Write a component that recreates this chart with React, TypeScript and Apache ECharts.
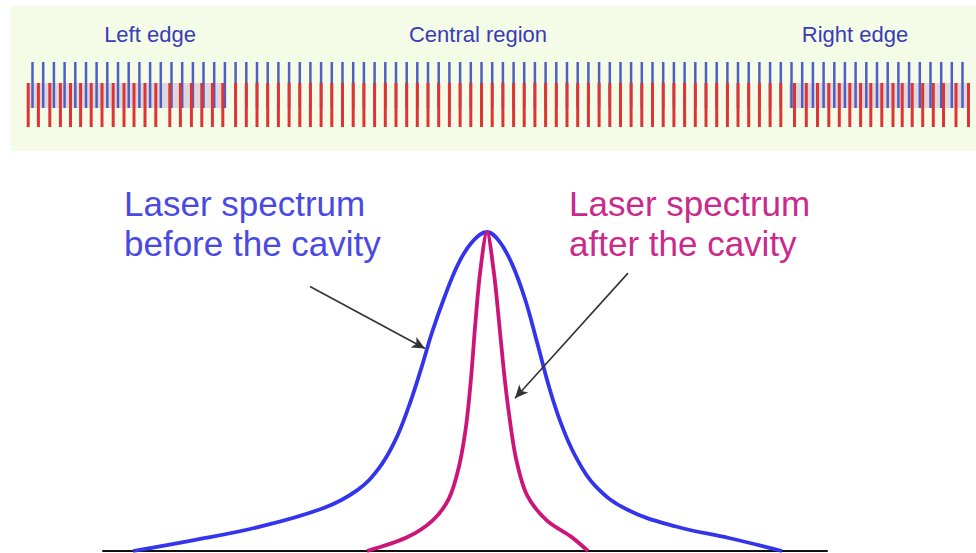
import React, { useEffect, useRef } from "react";
import * as echarts from "echarts";

// ---- Frequency comb (top panel), positions ----
const combModes = [
  32.5, 43.2, 53.9, 64.6, 75.3, 86.0, 96.6, 107.3, 118.0, 128.7,
  139.4, 150.1, 160.8, 171.5, 182.2, 192.9, 203.5, 214.2, 224.9, 235.6,
  246.3, 257.0, 267.7, 278.4, 289.1, 299.8, 310.4, 321.1, 331.8, 342.5,
  353.2, 363.9, 374.6, 385.3, 396.0, 406.7, 417.3, 428.0, 438.7, 449.4,
  460.1, 470.8, 481.5, 492.2, 502.9, 513.6, 524.2, 534.9, 545.6, 556.3,
  567.0, 577.7, 588.4, 599.1, 609.8, 620.5, 631.1, 641.8, 652.5, 663.2,
  673.9, 684.6, 695.3, 706.0, 716.7, 727.4, 738.0, 748.7, 759.4, 770.1,
  780.8, 791.5, 802.2, 812.9, 823.6, 834.3, 844.9, 855.6, 866.3, 877.0,
  887.7, 898.4, 909.1, 919.8, 930.5, 941.2, 951.8, 962.5,
];
const cavityModes = [
  28.2, 38.4, 49.8, 60.4, 70.5, 80.6, 91.2, 102.0, 113.2, 124.0,
  134.0, 145.0, 155.8, 169.8, 180.4, 191.4, 201.8, 212.4, 222.8, 235.6,
  246.3, 257.0, 267.7, 278.4, 289.1, 299.8, 310.4, 321.1, 331.8, 342.5,
  353.2, 363.9, 374.6, 385.3, 396.0, 406.7, 417.3, 428.0, 438.7, 449.4,
  460.1, 470.8, 481.5, 492.2, 502.9, 513.6, 524.2, 534.9, 545.6, 556.3,
  567.0, 577.7, 588.4, 599.1, 609.8, 620.5, 631.1, 641.8, 652.5, 663.2,
  673.9, 684.6, 695.3, 706.0, 716.7, 727.4, 738.0, 748.7, 759.4, 770.1,
  780.8, 794.5, 806.3, 817.5, 828.8, 839.3, 849.8, 860.6, 870.8, 881.8,
  893.0, 902.2, 912.2, 922.7, 933.3, 943.5, 956.0, 968.5,
];
const combRange = [43, 89];
const cavityRange = [24, 68];
const mismatchBands = [
  [27, 224],
  [789, 968],
];
const mismatchRange = [43, 68];
const regionLabels = ["Left edge", "Central region", "Right edge"];

// ---- Spectra (bottom panel): detuning vs normalised intensity ----
const spectrumBefore: [number, number][] = [
  [-354, 0.0], [-297, 0.032], [-230, 0.074], [-164, 0.134], [-130, 0.19],
  [-108, 0.26], [-92, 0.345], [-78, 0.455], [-66, 0.57], [-55, 0.685],
  [-42, 0.8], [-28, 0.905], [-14, 0.972], [0, 1.0], [12, 0.972], [25, 0.9],
  [38, 0.79], [50, 0.655], [62, 0.515], [74, 0.4], [88, 0.3], [108, 0.205],
  [140, 0.13], [190, 0.076], [243, 0.04], [295, 0.0],
];
const spectrumAfter: [number, number][] = [
  [-120, 0.0], [-80, 0.043], [-54, 0.097], [-38, 0.165], [-28, 0.265],
  [-21, 0.39], [-16, 0.54], [-12, 0.7], [-7, 0.87], [0, 1.0],
  [7, 0.87], [12, 0.72], [17, 0.56], [22, 0.43], [29, 0.29], [40, 0.175],
  [60, 0.095], [84, 0.045], [101, 0.0],
];
const beforeLabel = ["Laser spectrum", "before the cavity"];
const afterLabel = ["Laser spectrum", "after the cavity"];
const beforeArrow = [[-177, 0.829], [-62, 0.635]];
const afterArrow = [[141, 0.871], [28, 0.479]];

const FONT = '"Liberation Sans", Arial, sans-serif';

function combRenderer(color: string, width: number) {
  return (params: any, api: any) => {
    const x = api.value(0);
    const p1 = api.coord([x, api.value(1)]);
    const p2 = api.coord([x, api.value(2)]);
    return {
      type: "line",
      shape: { x1: p1[0], y1: p1[1], x2: p2[0], y2: p2[1] },
      style: { stroke: color, lineWidth: width },
    };
  };
}

export default function App() {
  const ref = useRef<HTMLDivElement>(null);
  useEffect(() => {
    if (!ref.current) return;
    const chart = echarts.init(ref.current, undefined, { renderer: "svg" });
    const labelX = [150, 478, 855];
    chart.setOption({
      animation: false,
      backgroundColor: "#ffffff",
      grid: [
        {
          left: 10, right: 0, top: 6, height: 145,
          show: true, backgroundColor: "#f4fbe6", borderWidth: 0,
        },
        { left: 103, right: 149, top: 232, bottom: 2 },
      ],
      xAxis: [
        { type: "value", gridIndex: 0, min: 10, max: 976, show: false },
        {
          type: "value", gridIndex: 1, min: -384, max: 340,
          axisLine: { show: true, lineStyle: { color: "#111", width: 2 } },
          axisTick: { show: false }, axisLabel: { show: false },
          splitLine: { show: false },
        },
      ],
      yAxis: [
        { type: "value", gridIndex: 0, min: 0, max: 145, show: false },
        { type: "value", gridIndex: 1, min: 0, max: 1, show: false },
      ],
      series: [
        {
          type: "custom", xAxisIndex: 0, yAxisIndex: 0, z: 1, silent: true,
          data: [],
          renderItem: () => null,
          markArea: {
            silent: true,
            itemStyle: { color: "rgba(165,125,200,0.28)" },
            data: mismatchBands.map((b) => [
              { xAxis: b[0], yAxis: mismatchRange[0] },
              { xAxis: b[1], yAxis: mismatchRange[1] },
            ]),
          },
        },
        {
          type: "custom", name: "comb", xAxisIndex: 0, yAxisIndex: 0, z: 2,
          silent: true,
          encode: { x: 0, y: [1, 2] },
          data: combModes.map((x) => [x, combRange[0], combRange[1]]),
          renderItem: combRenderer("#4d5fc0", 2.5),
        },
        {
          type: "custom", name: "cavity", xAxisIndex: 0, yAxisIndex: 0, z: 3,
          silent: true,
          encode: { x: 0, y: [1, 2] },
          data: cavityModes.map((x) => [x, cavityRange[0], cavityRange[1]]),
          renderItem: combRenderer("#dd3434", 3),
        },
        {
          type: "line", name: "before", xAxisIndex: 1, yAxisIndex: 1,
          data: spectrumBefore, smooth: 0.4, symbol: "none",
          lineStyle: { color: "#3434ec", width: 3.8 }, z: 4,
          markLine: {
            silent: true, symbol: ["none", "arrow"], symbolSize: [9, 13],
            label: { show: false },
            lineStyle: { color: "#333", width: 1.6, type: "solid" },
            data: [[{ coord: beforeArrow[0] }, { coord: beforeArrow[1] }]],
          },
        },
        {
          type: "line", name: "after", xAxisIndex: 1, yAxisIndex: 1,
          data: spectrumAfter, smooth: 0.3, symbol: "none",
          lineStyle: { color: "#cc1479", width: 3.8 }, z: 5,
          markLine: {
            silent: true, symbol: ["none", "arrow"], symbolSize: [9, 13],
            label: { show: false },
            lineStyle: { color: "#333", width: 1.6, type: "solid" },
            data: [[{ coord: afterArrow[0] }, { coord: afterArrow[1] }]],
          },
        },
      ],
      graphic: [
        ...regionLabels.map((t, i) => ({
          type: "text", x: labelX[i], y: 34, z: 10,
          style: {
            text: t, fill: "#3a3cb6", fontSize: 22, fontFamily: FONT,
            textAlign: "center", textVerticalAlign: "middle",
          },
        })),
        ...beforeLabel.map((t, i) => ({
          type: "text", x: 124, y: 203 + i * 40, z: 10,
          style: {
            text: t, fill: "#4a4ae2", fontSize: 35, fontFamily: FONT,
            textAlign: "left", textVerticalAlign: "middle",
          },
        })),
        ...afterLabel.map((t, i) => ({
          type: "text", x: 569, y: 203 + i * 40, z: 10,
          style: {
            text: t, fill: "#c92a8c", fontSize: 35, fontFamily: FONT,
            textAlign: "left", textVerticalAlign: "middle",
          },
        })),
      ],
    });
    return () => chart.dispose();
  }, []);
  return (
    <div
      ref={ref}
      style={{ position: "absolute", left: 0, top: 0, width: 976, height: 553 }}
    />
  );
}
